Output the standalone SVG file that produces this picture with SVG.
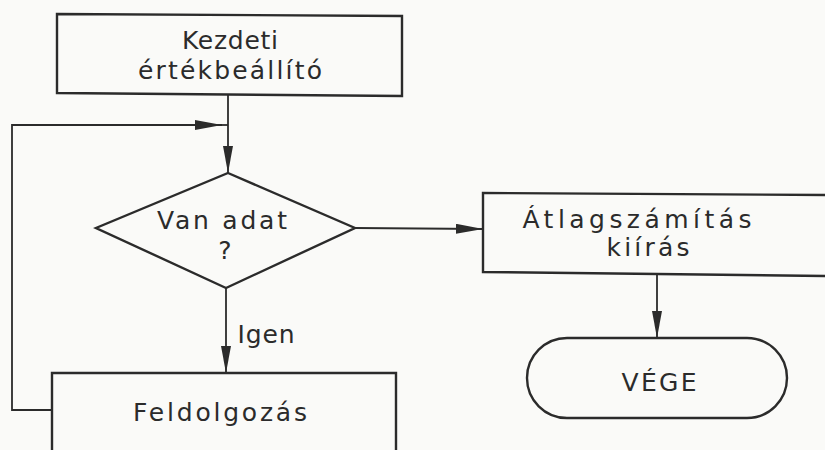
<svg xmlns="http://www.w3.org/2000/svg" width="825" height="450" viewBox="0 0 825 450">
  <style>
    .box { fill: none; stroke: #2b2b2b; stroke-width: 2.4; }
    .wire { fill: none; stroke: #2b2b2b; stroke-width: 1.8; }
    .lbl { font-family: "DejaVu Sans", "Liberation Sans", sans-serif; font-size: 25px; fill: #2b2b2b; text-anchor: middle; }
  </style>
  <defs>
    <marker id="arrow" markerUnits="userSpaceOnUse" markerWidth="28" markerHeight="11" refX="27" refY="5" orient="auto">
      <path d="M0,0 L27,5 L0,10 Z" fill="#2b2b2b"/>
    </marker>
  </defs>
  <rect width="825" height="450" fill="#fafaf8"/>

  <!-- connectors -->
  <g id="connectors">
    <line class="wire" x1="228" y1="95" x2="228" y2="173" marker-end="url(#arrow)"/>
    <path class="wire" d="M52,410 H12 V125 H222" marker-end="url(#arrow)"/>
    <line class="wire" x1="220" y1="125" x2="228" y2="125"/>
    <line class="wire" x1="226" y1="288" x2="226" y2="373" marker-end="url(#arrow)"/>
    <line class="wire" x1="355" y1="228" x2="483" y2="229" marker-end="url(#arrow)"/>
    <line class="wire" x1="657" y1="273" x2="657" y2="338" marker-end="url(#arrow)"/>
    <text class="lbl" x="266" y="343" textLength="57" lengthAdjust="spacing">Igen</text>
  </g>

  <!-- initialisation -->
  <g id="init">
    <path class="box" d="M57,14 L402,16 L402,96 L57,93 Z"/>
    <text class="lbl" x="230" y="49" textLength="96" lengthAdjust="spacing">Kezdeti</text>
    <text class="lbl" x="230" y="79" textLength="184" lengthAdjust="spacing">értékbeállító</text>
  </g>

  <!-- decision -->
  <g id="decision">
    <polygon class="box" points="228,173 355,228 226,288 96,228"/>
    <text class="lbl" x="222" y="229" textLength="130" lengthAdjust="spacing">Van adat</text>
    <text class="lbl" x="225" y="259">?</text>
  </g>

  <!-- processing (runs past the bottom edge) -->
  <g id="process">
    <path class="box" d="M52,452 V373 H396 V452"/>
    <text class="lbl" x="220" y="421" textLength="174" lengthAdjust="spacing">Feldolgozás</text>
  </g>

  <!-- average and print (runs past the right edge) -->
  <g id="average">
    <path class="box" d="M828,195 L483,193 L483,272 L828,276"/>
    <text class="lbl" x="637" y="228" textLength="229" lengthAdjust="spacing">Átlagszámítás</text>
    <text class="lbl" x="648" y="256" textLength="83" lengthAdjust="spacing">kiírás</text>
  </g>

  <!-- end -->
  <g id="end">
    <rect class="box" x="527" y="338" width="260" height="80" rx="40" ry="40"/>
    <text class="lbl" x="659" y="391" textLength="75" lengthAdjust="spacing">VÉGE</text>
  </g>
</svg>
